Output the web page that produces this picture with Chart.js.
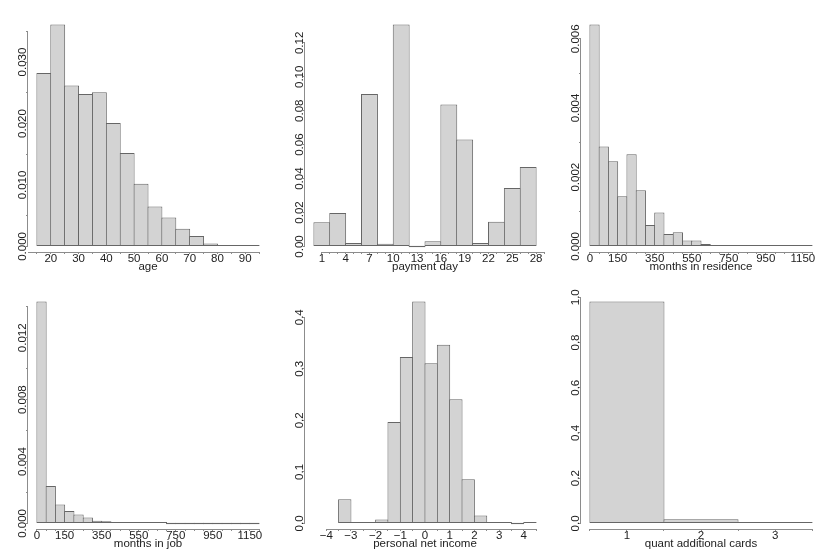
<!DOCTYPE html>
<html>
<head>
<meta charset="utf-8">
<script src="https://cdn.jsdelivr.net/npm/chart.js@4.4.1/dist/chart.umd.min.js"></script>
<style>
    html, body { margin: 0; padding: 0; background: #fff; }
    #wrap { position: relative; width: 830px; height: 554px; }
    #wrap canvas { position: absolute; }
</style>
</head>
<body>
<div id="wrap">
    <canvas id="h-age" width="277" height="277" style="left:0px;top:0px"></canvas>
    <canvas id="h-pay" width="277" height="277" style="left:277px;top:0px"></canvas>
    <canvas id="h-res" width="277" height="277" style="left:553px;top:0px"></canvas>
    <canvas id="h-job" width="277" height="277" style="left:0px;top:277px"></canvas>
    <canvas id="h-income" width="277" height="277" style="left:277px;top:277px"></canvas>
    <canvas id="h-cards" width="277" height="277" style="left:553px;top:277px"></canvas>
</div>
<script>
// ---- data (densities) ----

// age
const ageBreaks = [15, 20, 25, 30, 35, 40, 45, 50, 55, 60, 65, 70, 75, 80, 85, 90, 95];
const ageDensity = [0.0282, 0.0361, 0.0262, 0.0248, 0.0251, 0.0201, 0.0152, 0.0102, 0.0065, 0.0047, 0.0029, 0.0017, 0.0005, 0.0002, 0.0001, 0.00005];
const ageXTicks = [10, 15, 20, 25, 30, 35, 40, 45, 50, 55, 60, 65, 70, 75, 80, 85, 90, 95];
const ageXLabels = [20, 30, 40, 50, 60, 70, 80, 90];
const ageYTicks = [0, 0.005, 0.01, 0.015, 0.02, 0.025, 0.03, 0.035];
const ageYLabels = [0, 0.01, 0.02, 0.03];

// payment day
const payBreaks = [0, 2, 4, 6, 8, 10, 12, 14, 16, 18, 20, 22, 24, 26, 28];
const payDensity = [0.0142, 0.0197, 0.0020, 0.0899, 0.0016, 0.1308, 0.0000, 0.0031, 0.0836, 0.0631, 0.0020, 0.0146, 0.0344, 0.0468];
const payXTicks = [1, 2, 3, 4, 5, 6, 7, 8, 9, 10, 11, 12, 13, 14, 15, 16, 17, 18, 19, 20, 21, 22, 23, 24, 25, 26, 27, 28, 29];
const payXLabels = [1, 4, 7, 10, 13, 16, 19, 22, 25, 28];
const payYTicks = [0, 0.02, 0.04, 0.06, 0.08, 0.1, 0.12];
const payYLabels = [0, 0.02, 0.04, 0.06, 0.08, 0.1, 0.12];

// months (shared bins/ticks for residence and job)
const monthBreaks = [0, 50, 100, 150, 200, 250, 300, 350, 400, 450, 500, 550, 600, 650, 700, 750, 800, 850, 900, 950, 1000, 1050, 1100, 1150, 1200];
const monthXTicks = [0, 50, 100, 150, 200, 250, 300, 350, 400, 450, 500, 550, 600, 650, 700, 750, 800, 850, 900, 950, 1000, 1050, 1100, 1150, 1200];
const monthXLabels = [0, 150, 350, 550, 750, 950, 1150];

// months in residence
const resDensity = [0.00641, 0.00289, 0.00246, 0.00145, 0.00266, 0.00162, 0.00062, 0.00098, 0.00036, 0.00041, 0.00017, 0.00017, 0.00007, 0.00004, 0.00003, 0.00002, 0.00001, 0.00001, 0.00001, 0.00001, 0.00001, 0.000005, 0.00001, 0.00001];
const resYTicks = [0, 0.001, 0.002, 0.003, 0.004, 0.005, 0.006];
const resYLabels = [0, 0.002, 0.004, 0.006];

// months in job
const jobDensity = [0.01434, 0.00242, 0.00123, 0.0008, 0.00058, 0.00039, 0.00017, 0.00015, 0.00009, 0.00006, 0.00004, 0.00002, 0.00001, 0.00001, 0, 0, 0, 0, 0, 0, 0, 0, 0, 0];
const jobYTicks = [0, 0.002, 0.004, 0.006, 0.008, 0.01, 0.012, 0.014];
const jobYLabels = [0, 0.004, 0.008, 0.012];

// personal net income
const incomeBreaks = [-3.5, -3, -2.5, -2, -1.5, -1, -0.5, 0, 0.5, 1, 1.5, 2, 2.5, 3, 3.5, 4, 4.5];
const incomeDensity = [0.0468, 0.0020, 0.0013, 0.0078, 0.197, 0.323, 0.4305, 0.311, 0.3468, 0.2409, 0.0857, 0.0156, 0.0020, 0.0006, 0.0000, 0.0020];
const incomeXLim = [-4.5, 4.5];
const incomeXTicks = [-4, -3.5, -3, -2.5, -2, -1.5, -1, -0.5, 0, 0.5, 1, 1.5, 2, 2.5, 3, 3.5, 4, 4.5];
const incomeXLabels = [-4, -3, -2, -1, 0, 1, 2, 3, 4];
const incomeYTicks = [0, 0.1, 0.2, 0.3, 0.4];
const incomeYLabels = [0, 0.1, 0.2, 0.3, 0.4];

// quant additional cards
const cardsBreaks = [0.5, 1.5, 2.5, 3.5];
const cardsDensity = [0.981, 0.019, 0.0003];
const cardsXTicks = [0.5, 1, 1.5, 2, 2.5, 3, 3.5];
const cardsXLabels = [1, 2, 3];
const cardsYTicks = [0, 0.2, 0.4, 0.6, 0.8, 1.0];
const cardsYLabels = [0, 0.2, 0.4, 0.6, 0.8, 1.0];

// ---- style ----
const FONT = '"Liberation Sans", Arial, sans-serif';
const FONT_SIZE = 11.5;
const INK = '#222';
const AXIS = '#8c8c8c';
const PLOT_W = 240;

const fmtX = v => (v < 0 ? '\u2212' + (-v) : String(v));

// R-like axes: lines from first to last tick, rotated y labels, axis title
const rAxesPlugin = {
    id: 'rAxes',
    afterDraw(chart, args, opts) {
        const { ctx, chartArea: a, scales: { x, y } } = chart;
        ctx.save();
        ctx.strokeStyle = AXIS;
        ctx.lineWidth = 1;

        const clampX = px => Math.min(a.right, Math.max(a.left, px));
        const xa = clampX(x.getPixelForValue(opts.xTicks[0]));
        const xb = clampX(x.getPixelForValue(opts.xTicks[opts.xTicks.length - 1]));
        const yb = Math.round(a.bottom) + 0.5;
        ctx.beginPath();
        ctx.moveTo(xa, yb);
        ctx.lineTo(xb, yb);
        ctx.stroke();

        const ya = y.getPixelForValue(opts.yTicks[0]);
        const yt = y.getPixelForValue(opts.yTicks[opts.yTicks.length - 1]);
        const xl = Math.round(a.left) - 0.5;
        ctx.beginPath();
        ctx.moveTo(xl, ya);
        ctx.lineTo(xl, yt);
        ctx.stroke();

        ctx.fillStyle = INK;
        ctx.font = `${FONT_SIZE}px ${FONT}`;
        ctx.textAlign = 'center';
        ctx.textBaseline = 'alphabetic';
        opts.yLabels.forEach(v => {
            ctx.save();
            ctx.translate(a.left - 2, y.getPixelForValue(v));
            ctx.rotate(-Math.PI / 2);
            ctx.fillText(v.toFixed(opts.yDigits), 0, 0);
            ctx.restore();
        });

        ctx.fillText(opts.title, (a.left + a.right) / 2, a.bottom + 18);
        ctx.restore();
    }
};

function histogram(canvas, p) {
    const mids = p.breaks.slice(1).map((b, i) => (p.breaks[i] + b) / 2);
    const lim = p.xlim || [p.breaks[0], p.breaks[p.breaks.length - 1]];
    const xPad = (lim[1] - lim[0]) * 0.04;
    const xmin = lim[0] - xPad;
    const xmax = lim[1] + xPad;
    const top = Math.max(...p.density);
    const yPad = top * 0.025;
    const binPx = PLOT_W * (p.breaks[1] - p.breaks[0]) / (xmax - xmin);

    return new Chart(canvas, {
        type: 'bar',
        data: {
            datasets: [{
                data: mids.map((m, i) => ({ x: m, y: p.density[i] })),
                backgroundColor: '#d3d3d3',
                borderColor: '#666',
                borderWidth: 1,
                borderSkipped: false,
                inflateAmount: 0,
                barThickness: binPx + 1,
                minBarLength: 1.5,
            }]
        },
        options: {
            responsive: false,
            animation: false,
            events: [],
            layout: { padding: { top: 19, right: 9, left: 0, bottom: 0 } },
            scales: {
                x: {
                    type: 'linear',
                    min: xmin, max: xmax,
                    offset: false,
                    grid: { offset: false, drawOnChartArea: false, tickLength: 2, color: AXIS },
                    border: { display: false },
                    afterFit: s => { s.height = 25; },
                    afterBuildTicks: s => {
                        s.ticks = p.xTicks.filter(v => v >= s.min && v <= s.max).map(v => ({ value: v }));
                    },
                    ticks: {
                        autoSkip: false, maxRotation: 0, minRotation: 0,
                        padding: -2,
                        color: INK,
                        font: { family: FONT, size: FONT_SIZE },
                        callback: v => (p.xLabels.includes(v) ? fmtX(v) : '')
                    }
                },
                y: {
                    type: 'linear',
                    min: -yPad, max: top + yPad,
                    grid: { drawOnChartArea: false, tickLength: 2, color: AXIS },
                    border: { display: false },
                    afterFit: s => { s.width = 28; },
                    afterBuildTicks: s => {
                        s.ticks = p.yTicks.filter(v => v >= s.min && v <= s.max).map(v => ({ value: v }));
                    },
                    ticks: { display: false }
                }
            },
            plugins: {
                legend: { display: false },
                tooltip: { enabled: false },
                rAxes: {
                    title: p.title,
                    xTicks: p.xTicks,
                    yTicks: p.yTicks,
                    yLabels: p.yLabels,
                    yDigits: p.yDigits
                }
            }
        },
        plugins: [rAxesPlugin]
    });
}

histogram(document.getElementById('h-age'), {
    title: 'age', breaks: ageBreaks, density: ageDensity,
    xTicks: ageXTicks, xLabels: ageXLabels, yTicks: ageYTicks, yLabels: ageYLabels, yDigits: 3
});
histogram(document.getElementById('h-pay'), {
    title: 'payment day', breaks: payBreaks, density: payDensity,
    xTicks: payXTicks, xLabels: payXLabels, yTicks: payYTicks, yLabels: payYLabels, yDigits: 2
});
histogram(document.getElementById('h-res'), {
    title: 'months in residence', breaks: monthBreaks, density: resDensity,
    xTicks: monthXTicks, xLabels: monthXLabels, yTicks: resYTicks, yLabels: resYLabels, yDigits: 3
});
histogram(document.getElementById('h-job'), {
    title: 'months in job', breaks: monthBreaks, density: jobDensity,
    xTicks: monthXTicks, xLabels: monthXLabels, yTicks: jobYTicks, yLabels: jobYLabels, yDigits: 3
});
histogram(document.getElementById('h-income'), {
    title: 'personal net income', breaks: incomeBreaks, density: incomeDensity, xlim: incomeXLim,
    xTicks: incomeXTicks, xLabels: incomeXLabels, yTicks: incomeYTicks, yLabels: incomeYLabels, yDigits: 1
});
histogram(document.getElementById('h-cards'), {
    title: 'quant additional cards', breaks: cardsBreaks, density: cardsDensity,
    xTicks: cardsXTicks, xLabels: cardsXLabels, yTicks: cardsYTicks, yLabels: cardsYLabels, yDigits: 1
});
</script>
</body>
</html>
